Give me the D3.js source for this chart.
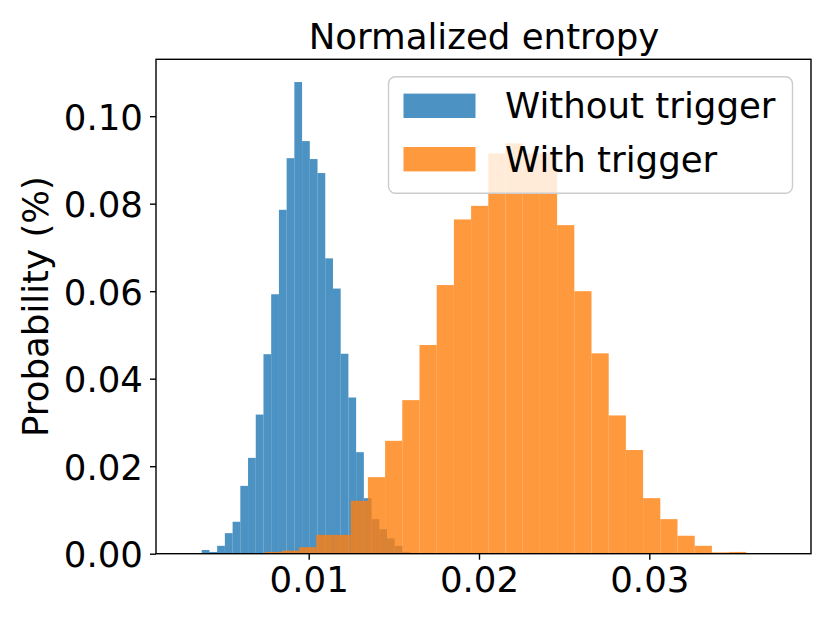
<!DOCTYPE html>
<html>
<head>
<meta charset="utf-8">
<script src="https://cdn.jsdelivr.net/npm/d3@7"></script>
<style>
  html, body { margin: 0; padding: 0; background: #fff; }
  svg { display: block; }
  text { font-family: "DejaVu Sans", sans-serif; }
</style>
</head>
<body>
<div id="chart"></div>
<script>
// ---- data ----
const seriesNames = ["Without trigger", "With trigger"];
const blueStart = 0.003717;
const blueWidth = 0.0004534;
const blueValues = [0.00085, 0.0004, 0.0018, 0.0047, 0.0073, 0.0155, 0.0219, 0.0318, 0.0456,
  0.0593, 0.0786, 0.0904, 0.1078, 0.0943, 0.0902, 0.0870, 0.0675, 0.0606, 0.0457, 0.0357,
  0.0232, 0.0127, 0.0079, 0.0056, 0.0035, 0.0018, 0.0004];
const orangeStart = 0.007416;
const orangeWidth = 0.00101;
const orangeValues = [0.0004, 0.0007, 0.0015, 0.0043, 0.0043, 0.0121, 0.0175, 0.0258, 0.0351,
  0.0477, 0.0614, 0.0764, 0.0795, 0.0915, 0.0938, 0.0915, 0.0915, 0.0751, 0.0600, 0.0458,
  0.0316, 0.0237, 0.0127, 0.0079, 0.0041, 0.0018, 0.0003, 0.0004];
const xTicks = [0.01, 0.02, 0.03];
const yTicks = [0.00, 0.02, 0.04, 0.06, 0.08, 0.10];
const xDomain = [0.001033, 0.039495];
const yDomain = [0, 0.1130];

// ---- layout ----
const W = 830, H = 623;
const plot = { left: 156, right: 811, top: 59.3, bottom: 553.7 };
const FS = 35.6;
const colors = ["#1f77b4", "#ff7f0e"];

const svg = d3.select("#chart").append("svg").attr("width", W).attr("height", H);

const x = d3.scaleLinear().domain(xDomain).range([plot.left, plot.right]);
const y = d3.scaleLinear().domain(yDomain).range([plot.bottom, plot.top]);

function bins(start, width, values) {
  return values.map((v, i) => ({ x0: start + i * width, x1: start + (i + 1) * width, v }));
}
const series = [bins(blueStart, blueWidth, blueValues), bins(orangeStart, orangeWidth, orangeValues)];

const g = svg.append("g");
series.forEach((data, si) => {
  g.append("g").selectAll("rect").data(data).join("rect")
    .attr("x", d => x(d.x0))
    .attr("width", d => x(d.x1) - x(d.x0))
    .attr("y", d => y(d.v))
    .attr("height", d => y(0) - y(d.v))
    .attr("fill", colors[si])
    .attr("fill-opacity", 0.8);
});

// axes
const xAxis = d3.axisBottom(x).tickValues(xTicks).tickFormat(d3.format(".2f")).tickSize(6).tickPadding(6);
const yAxis = d3.axisLeft(y).tickValues(yTicks).tickFormat(d3.format(".2f")).tickSize(6).tickPadding(7);

const gx = svg.append("g").attr("transform", `translate(0,${plot.bottom})`).call(xAxis);
const gy = svg.append("g").attr("transform", `translate(${plot.left},0)`).call(yAxis);
[gx, gy].forEach(a => {
  a.select(".domain").remove();
  a.selectAll(".tick line").attr("stroke", "#000").attr("stroke-width", 1.4);
  a.selectAll(".tick text").attr("font-size", FS).attr("font-family", "DejaVu Sans").attr("fill", "#000");
});
gx.selectAll(".tick text").attr("dy", "0.74em");
gy.selectAll(".tick text").attr("dy", "0.36em");

// frame
svg.append("rect")
  .attr("x", plot.left).attr("y", plot.top)
  .attr("width", plot.right - plot.left).attr("height", plot.bottom - plot.top)
  .attr("fill", "none").attr("stroke", "#000").attr("stroke-width", 1.4);

// title
svg.append("text")
  .attr("x", (plot.left + plot.right) / 2 + 0.5).attr("y", 48.5)
  .attr("text-anchor", "middle").attr("font-size", FS).attr("fill", "#000")
  .text("Normalized entropy");

// y label
svg.append("text")
  .attr("transform", `translate(48.3,${(plot.top + plot.bottom) / 2}) rotate(-90)`)
  .attr("text-anchor", "middle").attr("font-size", FS).attr("fill", "#000")
  .text("Probability (%)");

// legend
const lg = svg.append("g");
lg.append("rect")
  .attr("x", 388.5).attr("y", 76.8).attr("width", 404).attr("height", 116.5)
  .attr("rx", 7).attr("ry", 7)
  .attr("fill", "#fff").attr("fill-opacity", 0.8)
  .attr("stroke", "#cccccc").attr("stroke-width", 1.4);
seriesNames.forEach((name, i) => {
  const cy = 105.8 + i * 53.4;
  lg.append("rect")
    .attr("x", 403.5).attr("y", cy - 12.2).attr("width", 72).attr("height", 24.4)
    .attr("fill", colors[i]).attr("fill-opacity", 0.8);
  lg.append("text")
    .attr("x", 505).attr("y", cy + 12.5)
    .attr("font-size", FS).attr("fill", "#000")
    .text(name);
});
</script>
</body>
</html>
